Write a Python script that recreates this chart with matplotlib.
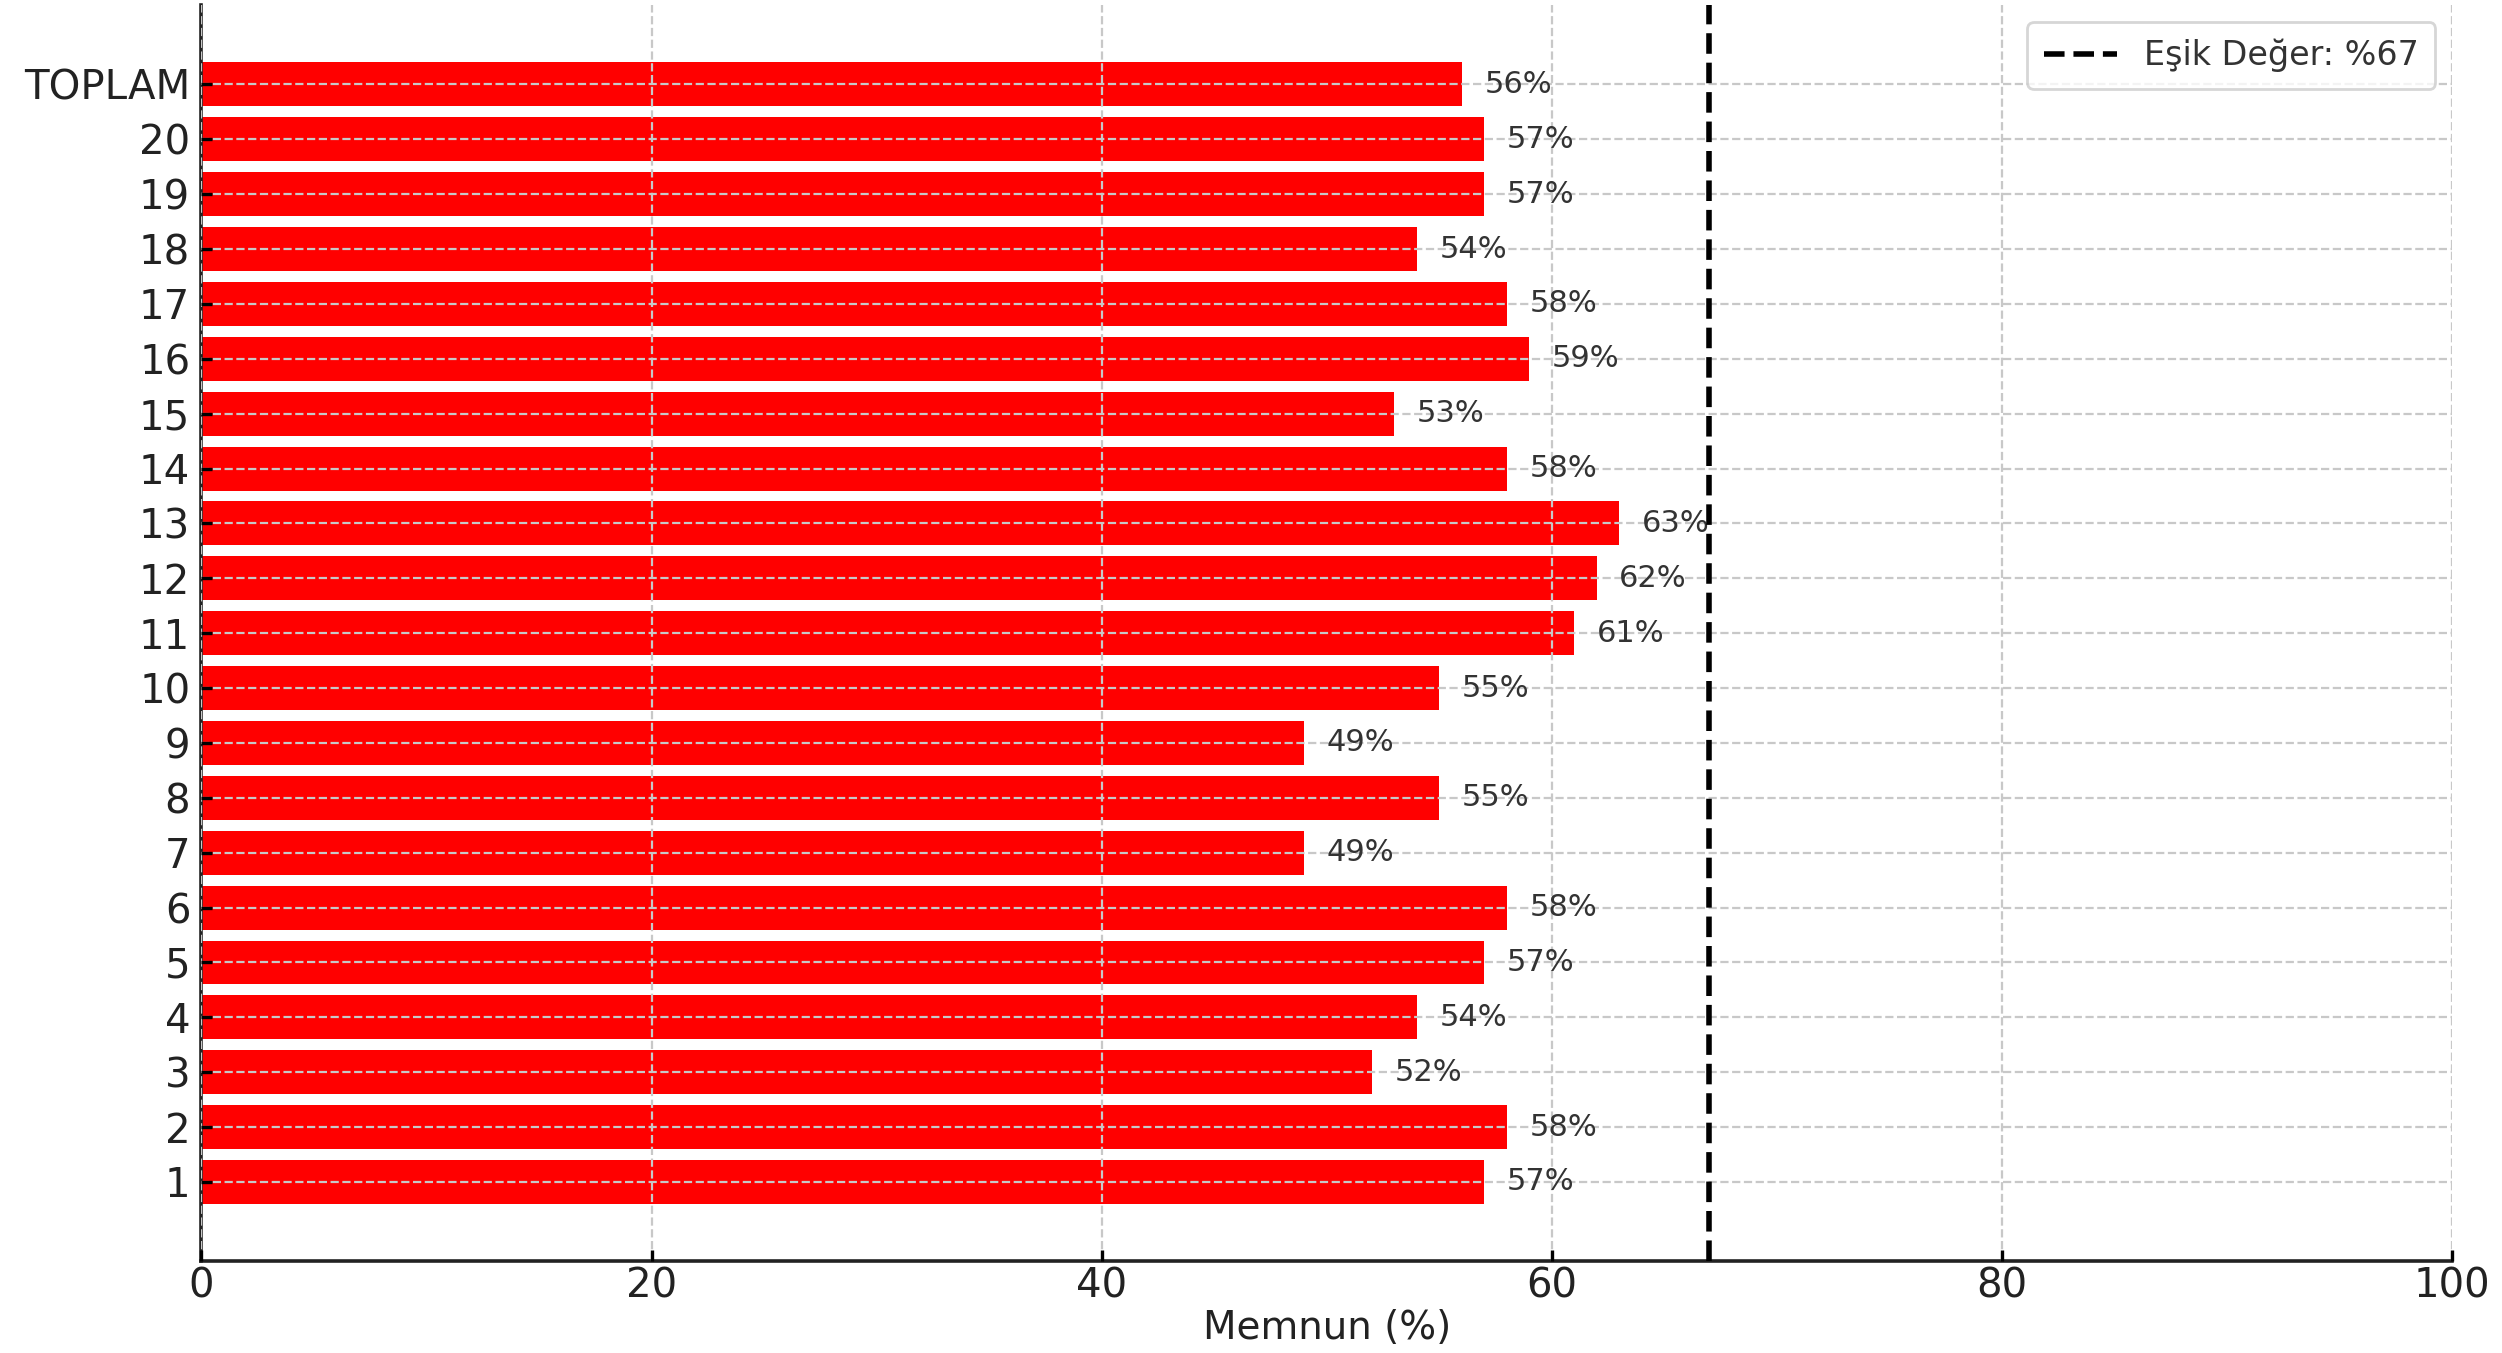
import numpy as np
import matplotlib
matplotlib.use("Agg")
import matplotlib.pyplot as plt

# Data
categories = [str(i) for i in range(1, 21)] + ['TOPLAM']
memnun = [57, 58, 52, 54, 57, 58, 49, 55, 49, 55,
          61, 62, 63, 58, 53, 59, 58, 54, 57, 57, 56]
esik = 67  # threshold value (%)

fig = plt.figure(figsize=(12.51, 6.765), dpi=200)
ax = fig.add_axes([0.0805, 0.068, 0.8995, 0.928])

y = np.arange(len(categories))
ax.barh(y, memnun, height=0.8, color='red', zorder=2)

# value labels next to bars
for yi, v in zip(y, memnun):
    ax.text(v + 1, yi, f"{v}%", va='center', ha='left', fontsize=11, color='#333333', zorder=3)

# threshold line
ax.axvline(esik, color='black', linestyle='--', linewidth=2, zorder=4,
           label=f"Eşik Değer: %{esik}")

ax.set_yticks(y)
ax.set_yticklabels(categories)
ax.set_xlim(0, 100)
ax.set_xticks([0, 20, 40, 60, 80, 100])
ax.set_xlabel("Memnun (%)", fontsize=14, color='#222222', labelpad=1)

ax.tick_params(axis='both', direction='in', length=4, width=1.2, labelsize=14.5,
               labelcolor='#222222', pad=4)
ax.tick_params(axis='x', pad=2)
ax.grid(True, linestyle='--', color='#c8c8c8', linewidth=0.8, zorder=2.5)
ax.set_axisbelow(False)

for s in ['top', 'right']:
    ax.spines[s].set_visible(False)
for s in ['left', 'bottom']:
    ax.spines[s].set_linewidth(1.3)
    ax.spines[s].set_color('#222222')

leg = ax.legend(loc='upper right', fontsize=12, frameon=True, fancybox=True,
                borderpad=0.5, handlelength=2.2)
leg.get_frame().set_edgecolor('#cccccc')
leg.get_frame().set_linewidth(1.0)
for t in leg.get_texts():
    t.set_color('#333333')

fig.savefig("out.png", dpi=200)
